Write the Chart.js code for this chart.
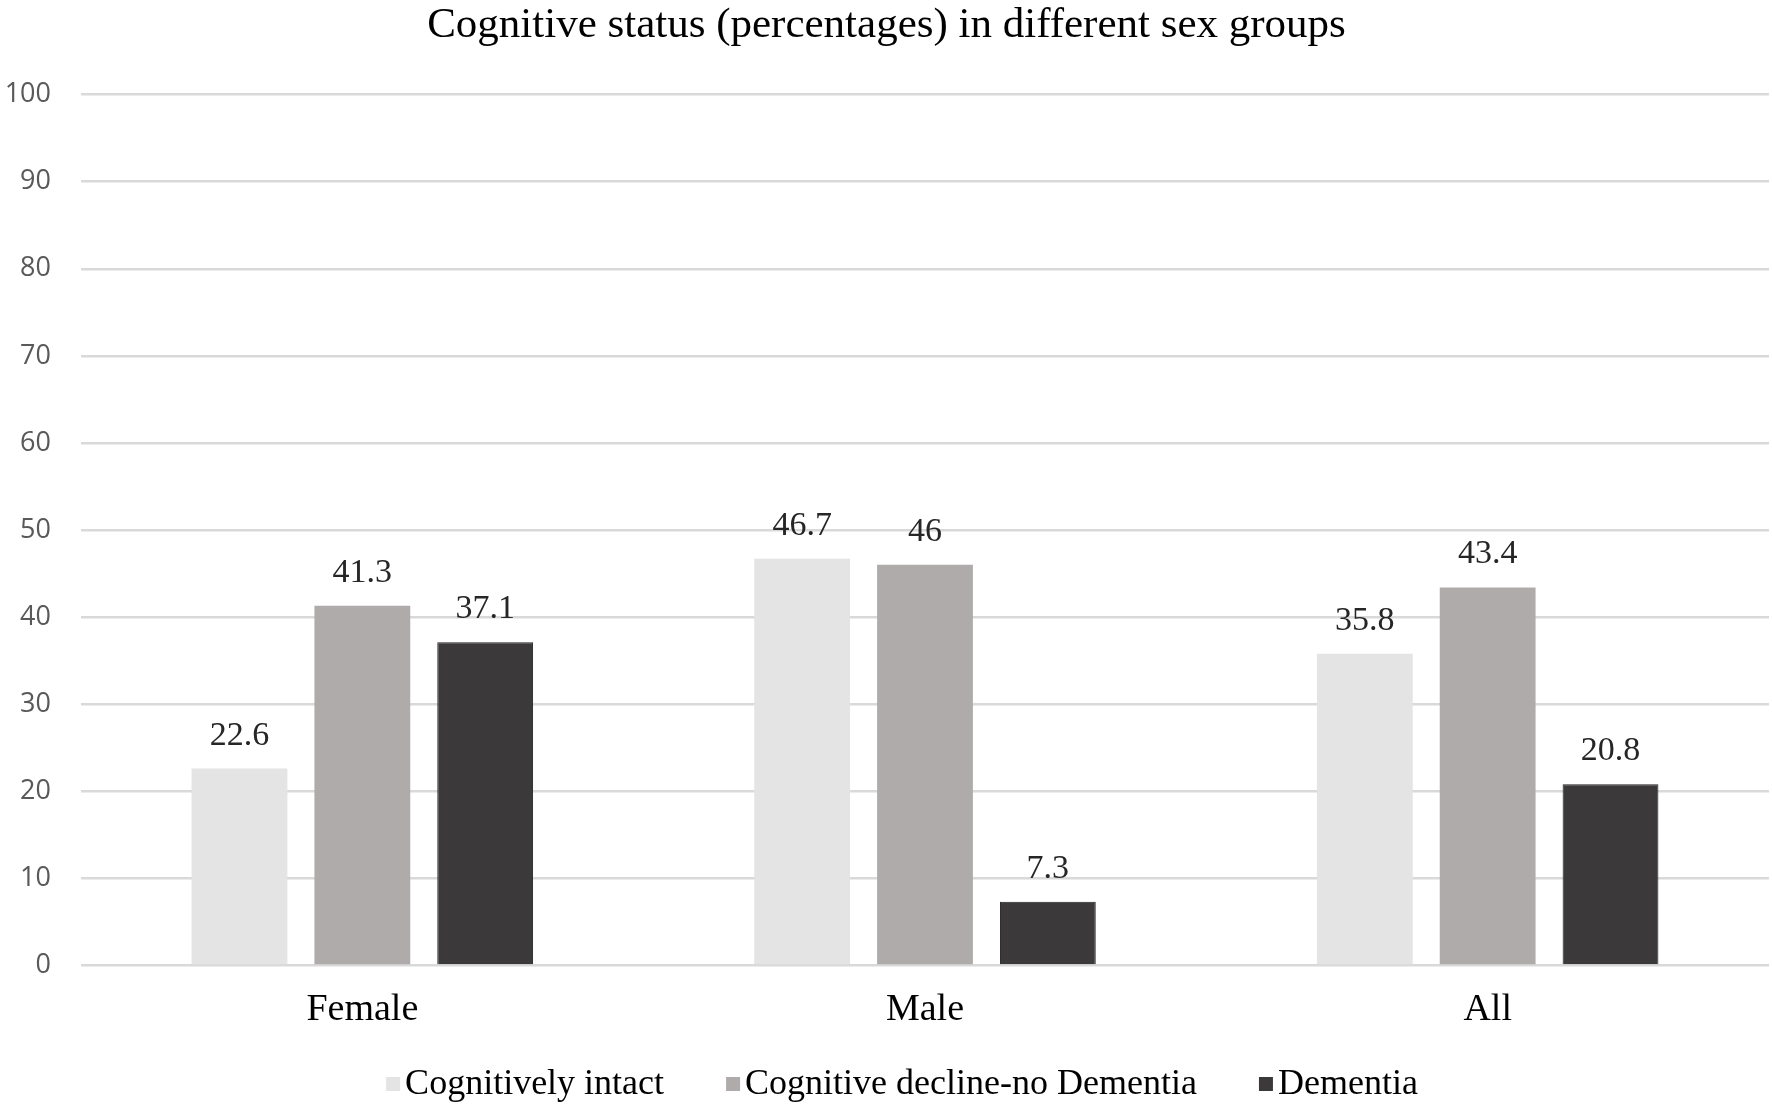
<!DOCTYPE html>
<html>
<head>
<meta charset="utf-8">
<title>Cognitive status</title>
<script src="https://cdn.jsdelivr.net/npm/chart.js@4.4.1/dist/chart.umd.min.js"></script>
<style>
    html, body { margin: 0; padding: 0; background: #ffffff; }
    #wrap { width: 1772px; height: 1106px; }
</style>
</head>
<body>
<div id="wrap"><canvas id="chart" width="1772" height="1106"></canvas></div>
<script>
//chart data
const groups = ["Female", "Male", "All"];
const seriesNames = ["Cognitively intact", "Cognitive decline-no Dementia", "Dementia"];
const intactValues = [22.6, 46.7, 35.8];
const declineValues = [41.3, 46, 43.4];
const dementiaValues = [37.1, 7.3, 20.8];
const yTicks = [0, 10, 20, 30, 40, 50, 60, 70, 80, 90, 100];

const SERIF = "'Liberation Serif', 'Times New Roman', serif";
const SANS = "'Open Sans', 'Liberation Sans', sans-serif";

//draws the value above each bar
const valueLabels = {
    id: "valueLabels",
    afterDatasetsDraw(chart) {
        let ctx = chart.ctx;
        ctx.save();
        ctx.font = "34px " + SERIF;
        ctx.fillStyle = "#262626";
        ctx.textAlign = "center";
        ctx.textBaseline = "alphabetic";
        chart.data.datasets.forEach((ds, i) => {
            chart.getDatasetMeta(i).data.forEach((bar, j) => {
                ctx.fillText(String(ds.data[j]), bar.x, bar.y - 24);
            });
        });
        ctx.restore();
    }
};

//legend row under the axis (small gap between square and text like the original)
const bottomLegend = {
    id: "bottomLegend",
    afterDraw(chart) {
        let ctx = chart.ctx;
        const box = 14, gap = 5, spacing = 62;
        ctx.save();
        ctx.font = "36px " + SERIF;
        ctx.textBaseline = "middle";
        ctx.textAlign = "left";
        let items = chart.data.datasets.map(ds => ({
            text: ds.label, color: ds.backgroundColor, w: ctx.measureText(ds.label).width
        }));
        let total = items.reduce((s, it) => s + box + gap + it.w, 0) + spacing * (items.length - 1);
        let x = chart.width / 2 + 16 - total / 2;
        let y = 1084;
        items.forEach(it => {
            ctx.fillStyle = it.color;
            ctx.fillRect(x, y - box / 2, box, box);
            ctx.fillStyle = "#000000";
            ctx.fillText(it.text, x + box + gap, y + 1);
            x += box + gap + it.w + spacing;
        });
        ctx.restore();
    }
};

document.addEventListener("DOMContentLoaded", () => {
    let context = document.getElementById("chart").getContext("2d");
    new Chart(context, {
        type: "bar",
        data: {
            labels: groups,
            datasets: [
                { label: seriesNames[0], data: intactValues, backgroundColor: "#e4e4e4" },
                { label: seriesNames[1], data: declineValues, backgroundColor: "#afabab" },
                { label: seriesNames[2], data: dementiaValues, backgroundColor: "#3b3939",
                  borderColor: "#222222", borderWidth: 1 }
            ]
        },
        options: {
            responsive: false,
            animation: false,
            devicePixelRatio: 1,
            categoryPercentage: 0.655,
            barPercentage: 0.78,
            layout: { padding: { left: 4, right: 3, top: 0, bottom: 59 } },
            plugins: {
                title: {
                    display: true,
                    text: "Cognitive status (percentages) in different sex groups",
                    color: "#000000",
                    font: { family: SERIF, size: 43, weight: "normal" },
                    padding: { top: 0, bottom: 43 }
                },
                legend: { display: false },
                tooltip: { enabled: false }
            },
            scales: {
                x: {
                    grid: { display: false },
                    border: { display: false },
                    ticks: {
                        color: "#000000",
                        font: { family: SERIF, size: 38 },
                        padding: 14
                    }
                },
                y: {
                    min: 0,
                    max: 100,
                    afterBuildTicks: (axis) => { axis.ticks = yTicks.map(v => ({ value: v })); },
                    afterFit: (axis) => { axis.width = 77; },
                    grid: { color: "#d9d9d9", lineWidth: 2.5, drawTicks: false },
                    border: { display: false },
                    ticks: {
                        color: "#595959",
                        font: { family: SANS, size: 27 },
                        padding: 30
                    }
                }
            }
        },
        plugins: [valueLabels, bottomLegend]
    });
});
</script>
</body>
</html>
